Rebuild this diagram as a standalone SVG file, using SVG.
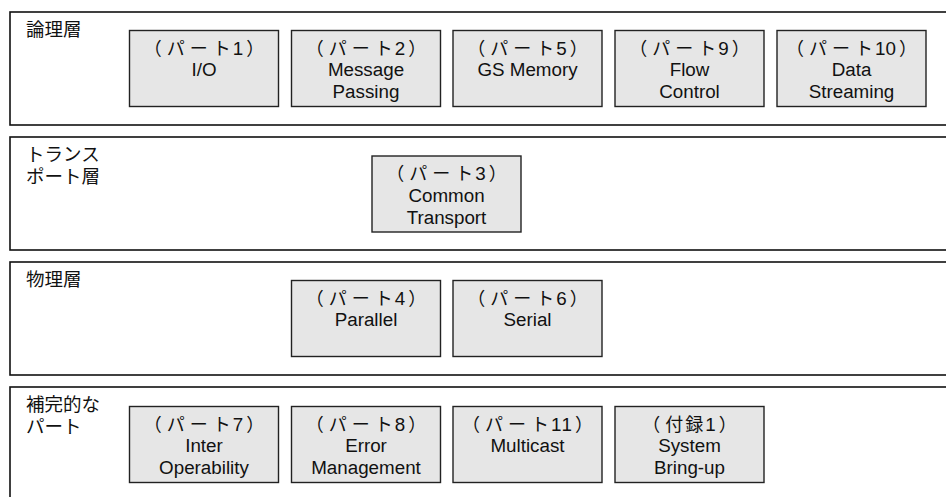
<svg xmlns="http://www.w3.org/2000/svg" width="946" height="497" viewBox="0 0 946 497">
<style>
.frame{fill:#fff;stroke:#111;stroke-width:1.6}
.box{fill:#e6e6e6;stroke:#222;stroke-width:1.4}
text{font-family:"Liberation Sans","Noto Sans CJK JP",sans-serif;font-size:18.8px;fill:#111}
.c{text-anchor:middle}
.lab{font-family:"Noto Sans CJK JP","Liberation Sans",sans-serif;font-size:18.5px}
.p{font-family:"Noto Sans CJK JP","Liberation Sans",sans-serif;font-size:18px}
.o{letter-spacing:5px}
.k{letter-spacing:5px}
.t{letter-spacing:2px}
.d{font-family:"Liberation Sans",sans-serif;font-size:18.8px;letter-spacing:3px}
.d2{font-family:"Liberation Sans",sans-serif;font-size:18.8px;letter-spacing:0}
</style>
<rect width="946" height="497" fill="#fff"/>
<g id="layer-logical">
<rect class="frame" x="10" y="12" width="950" height="113"/>
<text class="lab" x="26" y="35.5">論理層</text>
</g>
<g id="layer-transport">
<rect class="frame" x="10" y="137" width="950" height="113"/>
<text class="lab" x="26" y="160.5">トランス</text>
<text class="lab" x="26" y="182.5">ポート層</text>
</g>
<g id="layer-physical">
<rect class="frame" x="10" y="262" width="950" height="113"/>
<text class="lab" x="26" y="285.5">物理層</text>
</g>
<g id="layer-supplementary">
<rect class="frame" x="10" y="387" width="950" height="130"/>
<text class="lab" x="26" y="410.5">補完的な</text>
<text class="lab" x="26" y="432.5">パート</text>
</g>
<g id="part1"><rect class="box" x="129.5" y="30.5" width="149" height="76"/>
<text class="c p" x="204" y="54.5"><tspan class="o">（</tspan><tspan class="k">パー</tspan><tspan class="t">ト</tspan><tspan class="d">1</tspan>）</text><text class="c" x="204" y="76">I/O</text></g>
<g id="part2"><rect class="box" x="291.5" y="30.5" width="149" height="76"/>
<text class="c p" x="366" y="54.5"><tspan class="o">（</tspan><tspan class="k">パー</tspan><tspan class="t">ト</tspan><tspan class="d">2</tspan>）</text><text class="c" x="366" y="76">Message</text><text class="c" x="366" y="98">Passing</text></g>
<g id="part5"><rect class="box" x="453" y="30.5" width="149" height="76"/>
<text class="c p" x="527.5" y="54.5"><tspan class="o">（</tspan><tspan class="k">パー</tspan><tspan class="t">ト</tspan><tspan class="d">5</tspan>）</text><text class="c" x="527.5" y="76">GS Memory</text></g>
<g id="part9"><rect class="box" x="615" y="30.5" width="149" height="76"/>
<text class="c p" x="689.5" y="54.5"><tspan class="o">（</tspan><tspan class="k">パー</tspan><tspan class="t">ト</tspan><tspan class="d">9</tspan>）</text><text class="c" x="689.5" y="76">Flow</text><text class="c" x="689.5" y="98">Control</text></g>
<g id="part10"><rect class="box" x="777" y="30.5" width="149" height="76"/>
<text class="c p" x="851.5" y="54.5"><tspan class="o">（</tspan><tspan class="k">パー</tspan><tspan class="t">ト</tspan><tspan class="d2">1</tspan><tspan class="d">0</tspan>）</text><text class="c" x="851.5" y="76">Data</text><text class="c" x="851.5" y="98">Streaming</text></g>
<g id="part3"><rect class="box" x="372" y="156" width="149" height="76"/>
<text class="c p" x="446.5" y="180"><tspan class="o">（</tspan><tspan class="k">パー</tspan><tspan class="t">ト</tspan><tspan class="d">3</tspan>）</text><text class="c" x="446.5" y="201.5">Common</text><text class="c" x="446.5" y="223.5">Transport</text></g>
<g id="part4"><rect class="box" x="291.5" y="280.5" width="149" height="76"/>
<text class="c p" x="366" y="304.5"><tspan class="o">（</tspan><tspan class="k">パー</tspan><tspan class="t">ト</tspan><tspan class="d">4</tspan>）</text><text class="c" x="366" y="326">Parallel</text></g>
<g id="part6"><rect class="box" x="453" y="280.5" width="149" height="76"/>
<text class="c p" x="527.5" y="304.5"><tspan class="o">（</tspan><tspan class="k">パー</tspan><tspan class="t">ト</tspan><tspan class="d">6</tspan>）</text><text class="c" x="527.5" y="326">Serial</text></g>
<g id="part7"><rect class="box" x="129.5" y="406.5" width="149" height="76"/>
<text class="c p" x="204" y="430.5"><tspan class="o">（</tspan><tspan class="k">パー</tspan><tspan class="t">ト</tspan><tspan class="d">7</tspan>）</text><text class="c" x="204" y="452">Inter</text><text class="c" x="204" y="474">Operability</text></g>
<g id="part8"><rect class="box" x="291.5" y="406.5" width="149" height="76"/>
<text class="c p" x="366" y="430.5"><tspan class="o">（</tspan><tspan class="k">パー</tspan><tspan class="t">ト</tspan><tspan class="d">8</tspan>）</text><text class="c" x="366" y="452">Error</text><text class="c" x="366" y="474">Management</text></g>
<g id="part11"><rect class="box" x="453" y="406.5" width="149" height="76"/>
<text class="c p" x="527.5" y="430.5"><tspan class="o">（</tspan><tspan class="k">パー</tspan><tspan class="t">ト</tspan><tspan class="d2">1</tspan><tspan class="d">1</tspan>）</text><text class="c" x="527.5" y="452">Multicast</text></g>
<g id="appendix1"><rect class="box" x="615" y="406.5" width="149" height="76"/>
<text class="c p" x="689.5" y="430.5"><tspan class="o">（</tspan><tspan class="t">付録</tspan><tspan class="d">1</tspan>）</text><text class="c" x="689.5" y="452">System</text><text class="c" x="689.5" y="474">Bring-up</text></g>
<g id="connectors"></g>
</svg>
